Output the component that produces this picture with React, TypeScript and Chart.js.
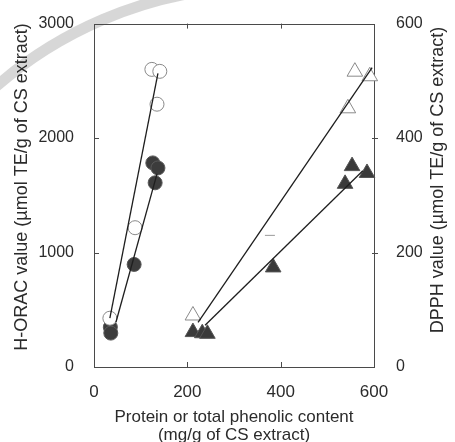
import React, { useEffect, useRef } from "react";
import { Chart, registerables } from "chart.js";

Chart.register(...registerables);

const W = 455;
const H = 442;
const FONT = '"Liberation Sans", Arial, Helvetica, sans-serif';
const INK = "#2b2b2b";

const xTickValues = [0, 200, 400, 600];
const oracTickValues = [0, 1000, 2000, 3000];
const dpphTickValues = [0, 200, 400, 600];

const xTitleLines = ["Protein or total phenolic content", "(mg/g of CS extract)"];
const oracTitle = "H-ORAC value (µmol TE/g of CS extract)";
const dpphTitle = "DPPH value (µmol TE/g of CS extract)";

// H-ORAC (left axis), open circles
const oracOpenX = [124, 141, 135, 88, 34];
const oracOpenY = [2600, 2583, 2296, 1217, 426];
// H-ORAC (left axis), filled circles
const oracFilledX = [126, 137, 131, 86, 35, 36];
const oracFilledY = [1783, 1739, 1609, 896, 348, 296];

// DPPH (right axis), open triangles
const dpphOpenX = [559, 591, 544, 212];
const dpphOpenY = [516, 508, 452, 90];
// DPPH (right axis), faint dash mark
const dpphFaintX = [377];
const dpphFaintY = [230];
// DPPH (right axis), filled triangles
const dpphFilledX = [553, 585, 538, 384, 212, 232, 243];
const dpphFilledY = [351, 339, 320, 174, 61, 59, 58];

// Regression lines, end points
const oracOpenFitX = [34, 137];
const oracOpenFitY = [426, 2565];
const oracFilledFitX = [47, 135];
const oracFilledFitY = [391, 1687];
const dpphOpenFitX = [223, 596];
const dpphOpenFitY = [78, 523];
const dpphFilledFitX = [238, 576];
const dpphFilledFitY = [73, 343];

const pts = (xs: number[], ys: number[]) => xs.map((x, i) => ({ x, y: ys[i] }));

const framePlugin = {
  id: "frame",
  beforeDraw(chart: any) {
    const ctx = chart.ctx;
    ctx.save();
    ctx.fillStyle = "#ffffff";
    ctx.fillRect(0, 0, W, H);
    // faint watermark band in the upper-left corner
    ctx.strokeStyle = "rgba(175,175,175,0.5)";
    ctx.lineWidth = 11;
    ctx.beginPath();
    ctx.arc(262, 392, 405, -2.4, -1.55);
    ctx.stroke();
    ctx.restore();
  },
  beforeDatasetsDraw(chart: any) {
    const { ctx, chartArea: a, scales } = chart;
    ctx.save();
    ctx.strokeStyle = "#4a4a4a";
    ctx.lineWidth = 1;
    ctx.strokeRect(Math.round(a.left) + 0.5, Math.round(a.top) + 0.5, Math.round(a.width), Math.round(a.height));
    const tl = 5;
    ctx.beginPath();
    for (const v of xTickValues) {
      const px = Math.round(scales.x.getPixelForValue(v)) + 0.5;
      if (px < a.left + 2 || px > a.right - 2) continue;
      ctx.moveTo(px, a.bottom);
      ctx.lineTo(px, a.bottom - tl);
      ctx.moveTo(px, a.top);
      ctx.lineTo(px, a.top + tl);
    }
    for (const v of oracTickValues) {
      const py = Math.round(scales.y.getPixelForValue(v)) + 0.5;
      if (py < a.top + 2 || py > a.bottom - 2) continue;
      ctx.moveTo(a.left, py);
      ctx.lineTo(a.left + tl, py);
    }
    for (const v of dpphTickValues) {
      const py = Math.round(scales.y2.getPixelForValue(v)) + 0.5;
      if (py < a.top + 2 || py > a.bottom - 2) continue;
      ctx.moveTo(a.right - 2, py);
      ctx.lineTo(a.right + 4, py);
    }
    ctx.stroke();
    ctx.restore();
  },
  afterDraw(chart: any) {
    const ctx = chart.ctx;
    ctx.save();
    ctx.fillStyle = INK;
    ctx.font = `18px ${FONT}`;
    ctx.textAlign = "center";
    ctx.textBaseline = "middle";
    ctx.save();
    ctx.translate(22, 187);
    ctx.rotate(-Math.PI / 2);
    ctx.fillText(oracTitle, 0, 0);
    ctx.restore();
    ctx.save();
    ctx.translate(438, 180);
    ctx.rotate(-Math.PI / 2);
    ctx.fillText(dpphTitle, 0, 0);
    ctx.restore();
    ctx.restore();
  },
};

const fitLine = (data: { x: number; y: number }[], yAxisID: string) => ({
  type: "scatter" as const,
  data,
  yAxisID,
  showLine: true,
  borderColor: "#1e1e1e",
  borderWidth: 1.3,
  pointRadius: 0,
  clip: false,
  order: 0,
});

export default function App() {
  const ref = useRef<HTMLCanvasElement | null>(null);

  useEffect(() => {
    if (!ref.current) return;
    const chart = new Chart(ref.current, {
      type: "scatter",
      data: {
        datasets: [
          fitLine(pts(oracOpenFitX, oracOpenFitY), "y"),
          fitLine(pts(oracFilledFitX, oracFilledFitY), "y"),
          fitLine(pts(dpphOpenFitX, dpphOpenFitY), "y2"),
          fitLine(pts(dpphFilledFitX, dpphFilledFitY), "y2"),
          {
            data: pts(oracOpenX, oracOpenY),
            yAxisID: "y",
            pointStyle: "circle",
            pointRadius: 7,
            backgroundColor: "#ffffff",
            borderColor: "#8a8a8a",
            borderWidth: 1,
            clip: false,
            order: 1,
          },
          {
            data: pts(oracFilledX, oracFilledY),
            yAxisID: "y",
            pointStyle: "circle",
            pointRadius: 7,
            backgroundColor: "#3c3c3c",
            borderColor: "#5a5a5a",
            borderWidth: 1,
            clip: false,
            order: 2,
          },
          {
            data: pts(dpphOpenX, dpphOpenY),
            yAxisID: "y2",
            pointStyle: "triangle",
            pointRadius: 9,
            backgroundColor: "#ffffff",
            borderColor: "#8a8a8a",
            borderWidth: 1,
            clip: false,
            order: 1,
          },
          {
            data: pts(dpphFaintX, dpphFaintY),
            yAxisID: "y2",
            pointStyle: "line",
            pointRadius: 5,
            borderColor: "#9a9a9a",
            borderWidth: 1,
            clip: false,
            order: 1,
          },
          {
            data: pts(dpphFilledX, dpphFilledY),
            yAxisID: "y2",
            pointStyle: "triangle",
            pointRadius: 9,
            backgroundColor: "#3a3a3a",
            borderColor: "#555555",
            borderWidth: 1,
            clip: false,
            order: 2,
          },
        ] as any,
      },
      options: {
        responsive: false,
        animation: false,
        events: [],
        layout: { padding: { top: 22, left: 0, right: 0, bottom: 0 } },
        plugins: { legend: { display: false }, tooltip: { enabled: false } },
        scales: {
          x: {
            type: "linear",
            min: 0,
            max: 600,
            afterBuildTicks: (s: any) => {
              s.ticks = xTickValues.map((value) => ({ value }));
            },
            afterFit: (s: any) => {
              s.height = 75;
            },
            grid: { display: false },
            border: { display: false },
            ticks: {
              padding: 7,
              color: INK,
              font: { size: 17, family: FONT },
              callback: (v: any) => String(v),
            },
            title: {
              display: true,
              text: xTitleLines,
              color: INK,
              font: { size: 17, family: FONT, lineHeight: 1.1 },
              padding: { top: 0, bottom: -3 },
            },
          },
          y: {
            type: "linear",
            position: "left",
            min: 0,
            max: 3000,
            afterBuildTicks: (s: any) => {
              s.ticks = oracTickValues.map((value) => ({ value }));
            },
            afterFit: (s: any) => {
              s.width = 94;
            },
            grid: { display: false },
            border: { display: false },
            ticks: {
              padding: 12,
              color: INK,
              font: { size: 16, family: FONT },
              callback: (v: any) => String(v),
            },
          },
          y2: {
            type: "linear",
            position: "right",
            min: 0,
            max: 600,
            afterBuildTicks: (s: any) => {
              s.ticks = dpphTickValues.map((value) => ({ value }));
            },
            afterFit: (s: any) => {
              s.width = 81;
            },
            grid: { display: false },
            border: { display: false },
            ticks: {
              padding: 14,
              color: INK,
              font: { size: 16, family: FONT },
              callback: (v: any) => String(v),
            },
          },
        },
      } as any,
      plugins: [framePlugin],
    });
    return () => chart.destroy();
  }, []);

  return (
    <div style={{ position: "absolute", left: 0, top: 0, width: W, height: H, background: "#fff" }}>
      <canvas ref={ref} width={W} height={H} style={{ width: W, height: H, display: "block" }} />
    </div>
  );
}
